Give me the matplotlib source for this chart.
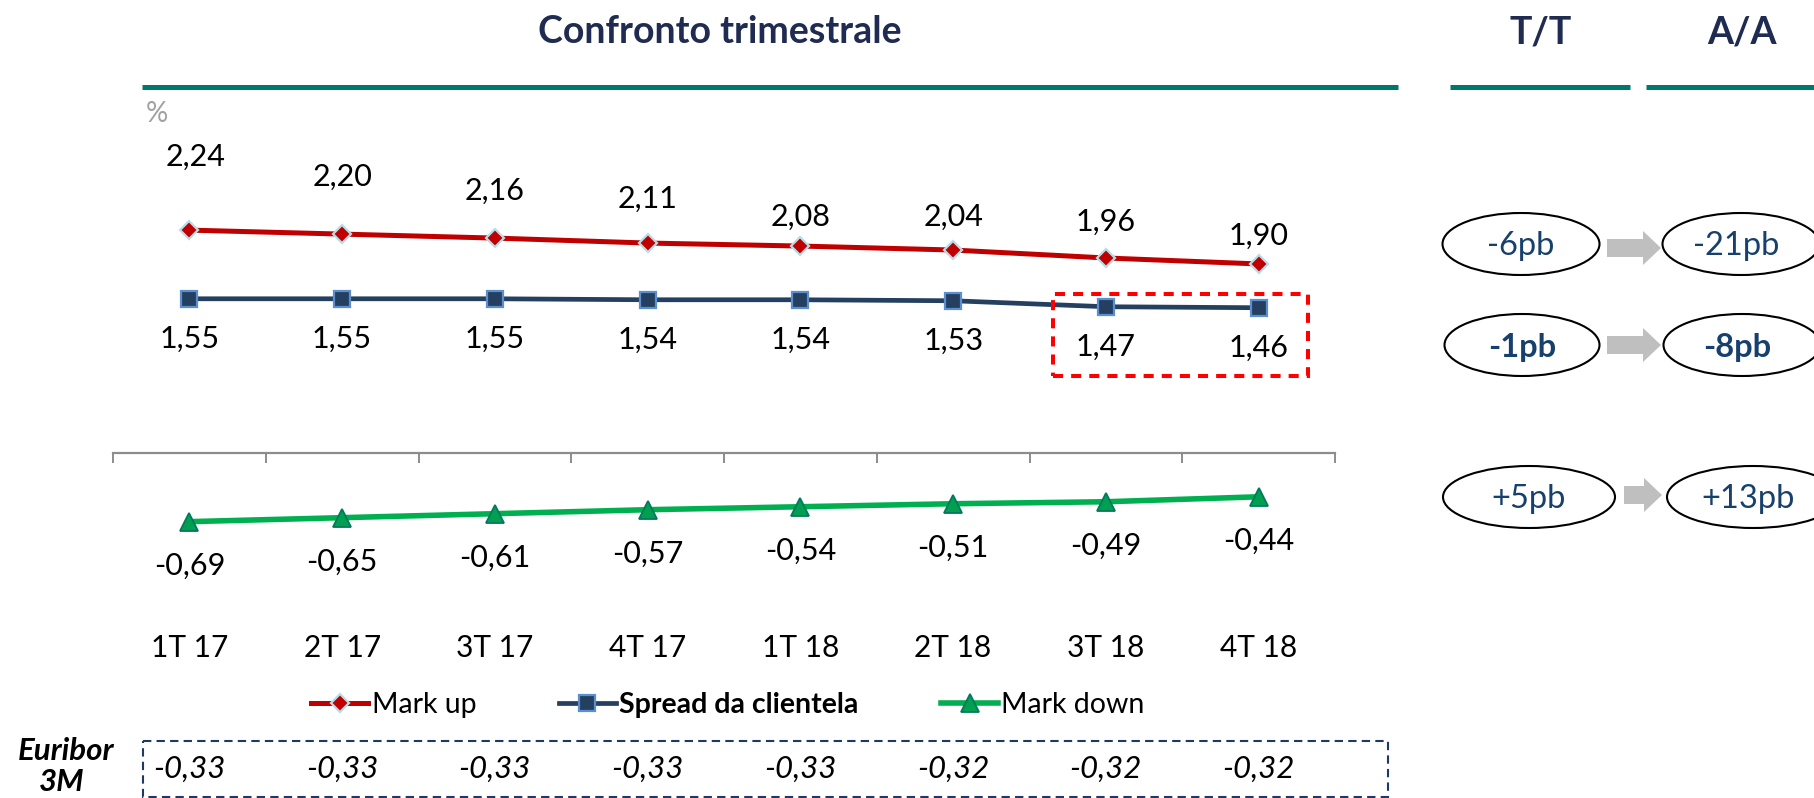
import matplotlib
matplotlib.use('Agg')
import matplotlib.pyplot as plt
from matplotlib.patches import Ellipse, Rectangle, Polygon
from matplotlib.transforms import blended_transform_factory
import numpy as np

plt.rcParams['font.family'] = ['Lato', 'DejaVu Sans']

# ---------------- data ----------------
quarters = ['1T 17', '2T 17', '3T 17', '4T 17', '1T 18', '2T 18', '3T 18', '4T 18']
mark_up = [2.24, 2.20, 2.16, 2.11, 2.08, 2.04, 1.96, 1.90]
spread = [1.55, 1.55, 1.55, 1.54, 1.54, 1.53, 1.47, 1.46]
mark_down = [-0.69, -0.65, -0.61, -0.57, -0.54, -0.51, -0.49, -0.44]
euribor = [-0.33, -0.33, -0.33, -0.33, -0.33, -0.32, -0.32, -0.32]
series_names = ['Mark up', 'Spread da clientela', 'Mark down']
delta_headers = ['T/T', 'A/A']
delta_qoq = ['-6pb', '-1pb', '+5pb']
delta_yoy = ['-21pb', '-8pb', '+13pb']
delta_bold = [False, True, False]

# manual label placement (px above the point), as in the original
markup_label_dy = [73, 57, 47, 44, 29, 33, 36, 28]

def fmt(v):
    return f"{v:.2f}".replace('.', ',')

W, H = 1814, 798
fig = plt.figure(figsize=(W / 100, H / 100), dpi=100)
PX = 0.72  # points per pixel

# overlay axes in pixel coordinates
bg = fig.add_axes([0, 0, 1, 1])
bg.set_xlim(0, W)
bg.set_ylim(H, 0)
bg.axis('off')

# main chart axes
ax = fig.add_axes([113 / W, 1 - 652 / H, 1222 / W, 547.25 / H])
ax.patch.set_alpha(0)
ax.set_xlim(-0.5, 7.5)
ax.set_ylim(-2.0, 3.5)
for s in ['top', 'left', 'right']:
    ax.spines[s].set_visible(False)
ax.spines['bottom'].set_position(('data', 0))
ax.spines['bottom'].set_color('#8C8C8C')
ax.spines['bottom'].set_linewidth(1.6)
ax.set_xticks(np.arange(-0.5, 8, 1))
ax.tick_params(axis='x', direction='out', length=7.5, width=1.4, color='#8C8C8C', labelbottom=False)
ax.set_yticks([])

x = np.arange(len(quarters))
ax.plot(x, mark_up, color='#C00000', lw=3.6, marker='D', ms=9, mfc='#C00000',
        mec='#B7DEE8', mew=1.6, label=series_names[0], zorder=3, clip_on=False)
ax.plot(x, spread, color='#243F60', lw=3.4, marker='s', ms=11, mfc='#243F60',
        mec='#5B8FCF', mew=1.6, label=series_names[1], zorder=3, clip_on=False)
ax.plot(x, mark_down, color='#00B050', lw=4.0, marker='^', ms=13, mfc='#00A050',
        mec='#00795E', mew=1.3, label=series_names[2], zorder=3, clip_on=False)

lab_fs = 22
for i in x:
    ax.annotate(fmt(mark_up[i]), (i, mark_up[i]), xytext=(6 * PX if i == 0 else 0, markup_label_dy[i] * PX),
                textcoords='offset points', ha='center', va='center', fontsize=lab_fs, color='black')
    ax.annotate(fmt(spread[i]), (i, spread[i]), xytext=(0, -40 * PX),
                textcoords='offset points', ha='center', va='center', fontsize=lab_fs, color='black')
    ax.annotate(fmt(mark_down[i]), (i, mark_down[i]), xytext=(0, -44 * PX),
                textcoords='offset points', ha='center', va='center', fontsize=lab_fs, color='black')
    ax.annotate(quarters[i], (i, 0), xytext=(0, -195 * PX),
                textcoords='offset points', ha='center', va='center', fontsize=21.5, color='black')

# red dashed highlight box around last two spread values
ax.add_patch(Rectangle((5.654, 0.774), 1.669, 0.824, fill=False, ec='#FF0000', lw=2.9,
                       ls=(0, (2.5, 2)), clip_on=False, zorder=4))

# percent sign
bg.text(157, 114, '%', ha='center', va='center', fontsize=20, color='#A0A0A0')

# header
bg.text(720, 32, 'Confronto trimestrale', ha='center', va='center', fontsize=27,
        fontweight='bold', color='#1F2B50')
bg.text(1541, 32, delta_headers[0], ha='center', va='center', fontsize=27, fontweight='bold', color='#1F2B50')
bg.text(1742, 32, delta_headers[1], ha='center', va='center', fontsize=27, fontweight='bold', color='#1F2B50')
for x0, x1 in [(142, 1398), (1450, 1630), (1646, 1814)]:
    bg.plot([x0, x1], [86.5, 86.5], color='#00796B', lw=3.6, solid_capstyle='butt')

# legend
leg = fig.legend(loc='center', bbox_to_anchor=(728 / W, 1 - 705 / H), ncol=3, frameon=False,
                 fontsize=20.5, handlelength=2.0, handletextpad=0.12, columnspacing=2.9,
                 borderaxespad=0, borderpad=0)
leg.get_texts()[1].set_fontweight('bold')

# Euribor 3M row
bg.text(66, 751, 'Euribor', ha='center', va='center', fontsize=22.5, fontweight='bold', fontstyle='italic')
bg.text(62, 782, '3M', ha='center', va='center', fontsize=22.5, fontweight='bold', fontstyle='italic')
bg.add_patch(Rectangle((143, 741), 1245, 56, fill=False, ec='#1F3864', lw=1.5, ls=(0, (4, 2.5))))
tr = blended_transform_factory(ax.transData, bg.transData)
for i in x:
    bg.text(i, 769, fmt(euribor[i]), transform=tr, ha='center', va='center', fontsize=22.5,
            fontstyle='italic', color='black')

# delta ellipses and arrows
rows = [  # (cy, left cx, left w, right cx, right w, arrow x0, head x, x1, arrow cy)
    (244, 1521, 157, 1741, 157, 1607, 1643, 1661, 248),
    (345, 1522, 155, 1742, 157, 1607, 1643, 1661, 345),
    (497, 1529, 172, 1753, 172, 1624, 1644, 1662, 495),
]
for k, (cy, lcx, lw_, rcx, rw, ax0, axh, ax1, acy) in enumerate(rows):
    bg.add_patch(Ellipse((lcx, cy), lw_, 62, fill=False, ec='black', lw=1.5))
    bg.add_patch(Ellipse((rcx, cy), rw, 62, fill=False, ec='black', lw=1.5))
    bg.add_patch(Polygon([(ax0, acy - 9), (axh, acy - 9), (axh, acy - 17), (ax1, acy),
                          (axh, acy + 17), (axh, acy + 9), (ax0, acy + 9)],
                         closed=True, fc='#BFBFBF', ec='none'))
    fw = 'bold' if delta_bold[k] else 'normal'
    bg.text(lcx, cy + 2, delta_qoq[k], ha='center', va='center', fontsize=23.5, fontweight=fw, color='#17406D')
    bg.text(rcx - 5, cy + 2, delta_yoy[k], ha='center', va='center', fontsize=23.5,
            fontweight=fw, color='#17406D')

fig.savefig('out.png', dpi=100)
